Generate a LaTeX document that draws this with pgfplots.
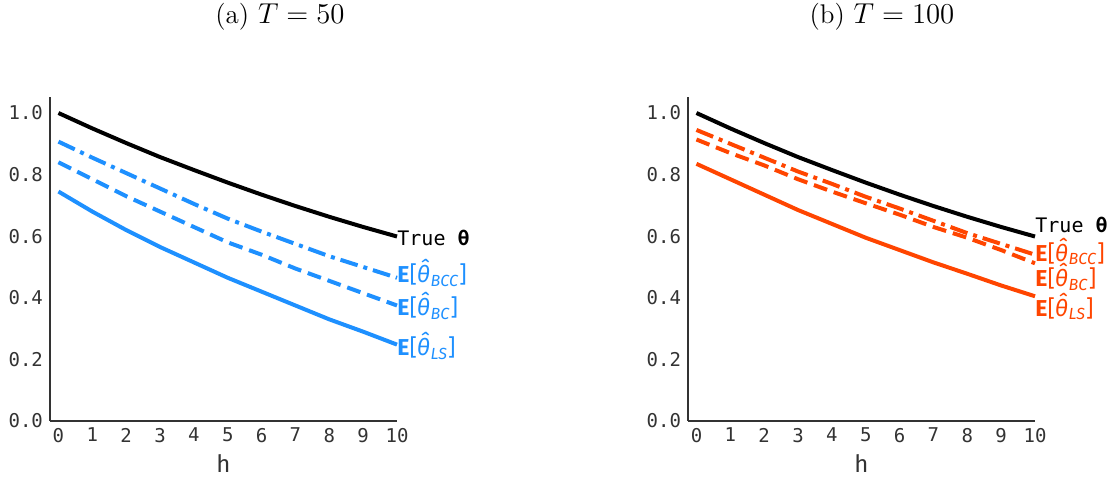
\documentclass[border=0pt]{standalone}
\usepackage{fontspec}
\setmainfont{Latin Modern Roman}
\setsansfont{Fira Sans}
\setmonofont{DejaVu Sans Mono}
\usepackage{pgfplots}
\pgfplotsset{compat=1.18}
\definecolor{cblue}{RGB}{30,144,255}
\definecolor{corange}{RGB}{255,69,0}
\definecolor{axgray}{RGB}{51,51,51}
\newcommand{\est}[1]{\sffamily\textbf{E}[\textit{\^{θ}}\textsubscript{\textit{#1}}]}
\pgfplotsset{
  myaxis/.style={
    scale only axis, width=173.5pt, height=162pt,
    xmin=-0.25, xmax=10, ymin=0, ymax=1.052,
    axis x line*=bottom, axis y line*=left,
    axis line style={axgray, line width=1pt, -},
    major tick length=0pt,
    xtick={0,...,10}, ytick={0,0.2,...,1.0},
    /pgf/number format/assume math mode=true,
    yticklabel style={/pgf/number format/.cd, fixed, fixed zerofill, precision=1},
    tick label style={font=\ttfamily\fontsize{9.5}{11}\selectfont, text=axgray},
    xlabel={h}, xlabel style={font=\sffamily\fontsize{12}{14}\selectfont, text=axgray, yshift=1pt},
    clip=false,
  }
}
\begin{document}
\begin{tikzpicture}
\useasboundingbox (0,0) rectangle (557pt,241pt);
\node[font=\fontsize{13.5}{15}\selectfont] at (140pt,232.5pt) {(a) $T=50$};
\node[font=\fontsize{13.5}{15}\selectfont] at (441pt,232.5pt) {(b) $T=100$};
\begin{axis}[myaxis, at={(25pt,30.5pt)}, anchor=south west]
\addplot[black, line width=2pt] coordinates {(0,1.0)(1,0.95)(2,0.9025)(3,0.857)(4,0.815)(5,0.774)(6,0.735)(7,0.698)(8,0.663)(9,0.630)(10,0.599)};
\addplot[cblue, line width=2pt, dash pattern=on 9pt off 3pt on 2pt off 3pt] coordinates {(0,0.907)(1,0.855)(2,0.805)(3,0.755)(4,0.705)(5,0.657)(6,0.615)(7,0.575)(8,0.535)(9,0.50)(10,0.465)};
\addplot[cblue, line width=2pt, dash pattern=on 7pt off 3.5pt] coordinates {(0,0.84)(1,0.785)(2,0.73)(3,0.68)(4,0.63)(5,0.58)(6,0.54)(7,0.495)(8,0.455)(9,0.415)(10,0.375)};
\addplot[cblue, line width=2pt] coordinates {(0,0.745)(1,0.68)(2,0.62)(3,0.565)(4,0.515)(5,0.465)(6,0.42)(7,0.375)(8,0.33)(9,0.29)(10,0.248)};
\node[anchor=west, inner sep=0pt, font=\ttfamily\fontsize{10}{12}\selectfont] at (axis cs:10,0.594) {True \textbf{θ}};
\node[anchor=west, inner sep=0pt, text=cblue, font=\fontsize{11.5}{12}\selectfont] at (axis cs:10,0.480) {\est{BCC}};
\node[anchor=west, inner sep=0pt, text=cblue, font=\fontsize{11.5}{12}\selectfont] at (axis cs:10,0.373) {\est{BC}};
\node[anchor=west, inner sep=0pt, text=cblue, font=\fontsize{11.5}{12}\selectfont] at (axis cs:10,0.243) {\est{LS}};
\end{axis}
\begin{axis}[myaxis, at={(344pt,30.5pt)}, anchor=south west]
\addplot[black, line width=2pt] coordinates {(0,1.0)(1,0.95)(2,0.9025)(3,0.857)(4,0.815)(5,0.774)(6,0.735)(7,0.698)(8,0.663)(9,0.630)(10,0.599)};
\addplot[corange, line width=2pt, dash pattern=on 9pt off 3pt on 2pt off 3pt] coordinates {(0,0.945)(1,0.90)(2,0.855)(3,0.81)(4,0.77)(5,0.728)(6,0.69)(7,0.65)(8,0.61)(9,0.575)(10,0.54)};
\addplot[corange, line width=2pt, dash pattern=on 7pt off 3.5pt] coordinates {(0,0.914)(1,0.87)(2,0.83)(3,0.785)(4,0.745)(5,0.707)(6,0.67)(7,0.63)(8,0.595)(9,0.555)(10,0.512)};
\addplot[corange, line width=2pt] coordinates {(0,0.835)(1,0.785)(2,0.735)(3,0.685)(4,0.64)(5,0.595)(6,0.555)(7,0.515)(8,0.478)(9,0.44)(10,0.405)};
\node[anchor=west, inner sep=0pt, font=\ttfamily\fontsize{10}{12}\selectfont] at (axis cs:10,0.636) {True \textbf{θ}};
\node[anchor=west, inner sep=0pt, text=corange, font=\fontsize{11.5}{12}\selectfont] at (axis cs:10,0.550) {\est{BCC}};
\node[anchor=west, inner sep=0pt, text=corange, font=\fontsize{11.5}{12}\selectfont] at (axis cs:10,0.468) {\est{BC}};
\node[anchor=west, inner sep=0pt, text=corange, font=\fontsize{11.5}{12}\selectfont] at (axis cs:10,0.372) {\est{LS}};
\end{axis}
\end{tikzpicture}
\end{document}
